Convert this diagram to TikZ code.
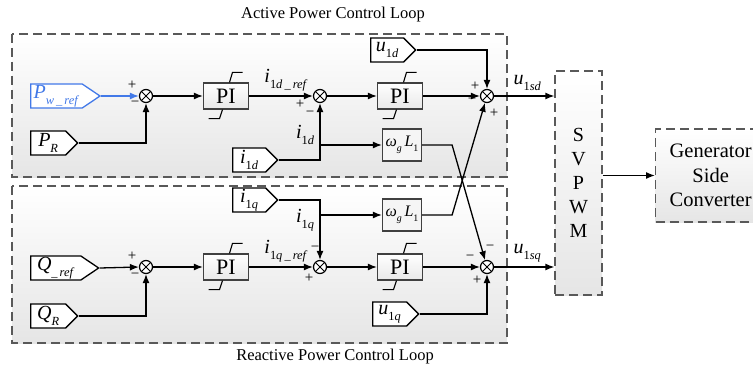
\documentclass[tikz,border=0pt]{standalone}
\usepackage{fontspec}
\usepackage{graphicx}
\setmainfont{Liberation Serif}
\usetikzlibrary{arrows.meta,shapes.symbols}
\definecolor{refblue}{RGB}{66,121,232}
\newcommand{\sgl}[2]{\textit{#1}\raisebox{-0.3em}{\scalebox{0.62}{#2}}}

\begin{document}
\begin{tikzpicture}[
    x=1pt, y=-1pt,
    loopbox/.style={draw=black!65, line width=1.3pt, dash pattern=on 9pt off 5pt, top color=white, bottom color=black!10},
    tag/.style={draw, line width=1.3pt, fill=white, signal, signal to=east, signal pointer angle=90, minimum height=24pt, inner xsep=3pt, inner ysep=0pt, anchor=west, font=\fontsize{20}{20}\selectfont},
    pibox/.style={draw=black!75, line width=1.2pt, top color=white, bottom color=black!9, minimum width=45pt, minimum height=26pt, inner sep=0pt, font=\fontsize{22}{22}\selectfont},
    gain/.style={draw=black!75, line width=1.2pt, fill=black!4, minimum width=39pt, minimum height=32pt, inner sep=0pt, font=\fontsize{16}{16}\selectfont},
    sumnode/.style={draw, line width=1.2pt, circle, fill=white, minimum size=13pt, inner sep=0pt,
        path picture={\draw[line width=1pt] (path picture bounding box.north west) -- (path picture bounding box.south east)
            (path picture bounding box.south west) -- (path picture bounding box.north east);}},
    sig/.style={line width=1.3pt, -{Latex[length=9pt,width=7pt]}},
    lbl/.style={font=\fontsize{20}{20}\selectfont},
    sgn/.style={font=\fontsize{15}{15}\selectfont, inner sep=0pt}
]
\useasboundingbox (0,0) rectangle (753,369);
\clip (0,0) rectangle (753,369);

% loop frames
\draw[loopbox] (12,34) rectangle (507,177);
\draw[loopbox] (12,186) rectangle (507,343);
\node[font=\fontsize{16.5}{16.5}\selectfont] (acttitle) at (333,15) {Active Power Control Loop};
\node[font=\fontsize{16.5}{16.5}\selectfont] (reacttitle) at (335,357) {Reactive Power Control Loop};

% active power loop
\node[tag, minimum width=68pt, signal pointer angle=68, draw=refblue, text=refblue] (pwref) at (30,96) {\sgl{P}{\textit{w\,\_\,ref}}};
\node[tag, minimum width=47pt] (pr) at (30,143) {\sgl{P}{\textit{R}}};
\node[sumnode] (s1d) at (146,96) {};
\node[pibox] (pi1d) at (226,96) {PI};
\node[sumnode] (s2d) at (320,96) {};
\node[tag, minimum width=45pt] (i1d) at (232,160) {\sgl{i}{1\textit{d}}};
\node[pibox] (pi2d) at (400,96) {PI};
\node[gain] (wld) at (402,145) {\sgl{ω}{\textit{g}}\,\sgl{L}{1}};
\node[tag, minimum width=45pt] (u1d) at (370,50) {\sgl{u}{1\textit{d}}};
\node[sumnode] (s3d) at (487,96) {};

% reactive power loop
\node[tag, minimum width=68pt, signal pointer angle=68] (qref) at (30,268) {\sgl{Q}{\textit{\_\,ref}}};
\node[tag, minimum width=47pt] (qr) at (30,316) {\sgl{Q}{\textit{R}}};
\node[sumnode] (s1q) at (146,267) {};
\node[pibox] (pi1q) at (226,267) {PI};
\node[sumnode] (s2q) at (320,267) {};
\node[tag, minimum width=45pt] (i1q) at (232,200) {\sgl{i}{1\textit{q}}};
\node[pibox] (pi2q) at (400,267) {PI};
\node[gain] (wlq) at (402,215) {\sgl{ω}{\textit{g}}\,\sgl{L}{1}};
\node[tag, minimum width=46pt] (u1q) at (372,314) {\sgl{u}{1\textit{q}}};
\node[sumnode] (s3q) at (487,267) {};

% modulator and converter
\node[loopbox, minimum width=47pt, minimum height=224pt, align=center, font=\fontsize{20}{24}\selectfont] (svpwm) at (578.5,183) {S\\V\\P\\W\\M};
\node[loopbox, minimum width=110pt, minimum height=93pt, anchor=west, align=center, font=\fontsize{20.5}{24.5}\selectfont] (gsc) at (655,175.5) {Generator\\Side\\Converter};

% saturation marks
\foreach \n in {pi1d,pi2d,pi1q,pi2q} {
    \draw[line width=1.1pt] ([xshift=3.5pt]\n.north) -- ++(3,-10) -- ++(10,0);
    \draw[line width=1.1pt] ([xshift=-3.5pt]\n.south) -- ++(-3,9) -- ++(-11,0);
}

% active connectors
\draw[sig, draw=refblue, -{Latex[length=9pt,width=7pt,fill=refblue]}] (pwref.east) -- (s1d.west);
\draw[sig] (pr.east) -| (s1d.south);
\draw[sig] (s1d.east) -- (pi1d.west);
\draw[sig] (pi1d.east) -- node[lbl, above, xshift=5pt, yshift=1pt] {\sgl{i}{1\textit{d\,\_\,ref}}} (s2d.west);
\draw[sig] (i1d.east) -| (s2d.south);
\draw[sig] (s2d.south |- wld.west) -- (wld.west);
\draw[sig] (s2d.east) -- (pi2d.west);
\draw[sig] (pi2d.east) -- (s3d.west);
\draw[sig] (u1d.east) -| (s3d.north);
\draw[sig] (s3d.east) -- node[lbl, above, xshift=3pt, yshift=1pt] {\sgl{u}{1\textit{sd}}} (s3d.east -| svpwm.west);
\node[lbl] (i1dlbl) at (305,135) {\sgl{i}{1\textit{d}}};

% reactive connectors
\draw[sig] (qref.east) -- (s1q.west);
\draw[sig] (qr.east) -| (s1q.south);
\draw[sig] (s1q.east) -- (pi1q.west);
\draw[sig] (pi1q.east) -- node[lbl, above, xshift=5pt, yshift=1pt] {\sgl{i}{1\textit{q\,\_\,ref}}} (s2q.west);
\draw[sig] (i1q.east) -| (s2q.north);
\draw[sig] (s2q.north |- wlq.west) -- (wlq.west);
\draw[sig] (s2q.east) -- (pi2q.west);
\draw[sig] (pi2q.east) -- (s3q.west);
\draw[sig] (u1q.east) -| (s3q.south);
\draw[sig] (s3q.east) -- node[lbl, above, xshift=3pt, yshift=1pt] {\sgl{u}{1\textit{sq}}} (s3q.east -| svpwm.west);
\node[lbl] (i1qlbl) at (305,220) {\sgl{i}{1\textit{q}}};

% decoupling cross
\draw[sig] (wld.east) -- ++(30,0) -- (s3q);
\draw[sig] (wlq.east) -- ++(30,0) -- (s3d);

% modulator to converter
\draw[sig] (svpwm.east |- gsc.west) -- (gsc.west);

% signs
\node[sgn] at (132,85) {+};
\node[sgn] at (135,104) {−};
\node[sgn] at (300,104) {+};
\node[sgn] at (310,114) {−};
\node[sgn] at (475,86) {+};
\node[sgn] at (472,101) {−};
\node[sgn] at (494,113) {+};
\node[sgn] at (132,256) {+};
\node[sgn] at (135,276) {−};
\node[sgn] at (315,249) {−};
\node[sgn] at (309,278) {+};
\node[sgn] at (470,258) {−};
\node[sgn] at (490,248) {−};
\node[sgn] at (477,280) {+};
\end{tikzpicture}
\end{document}
